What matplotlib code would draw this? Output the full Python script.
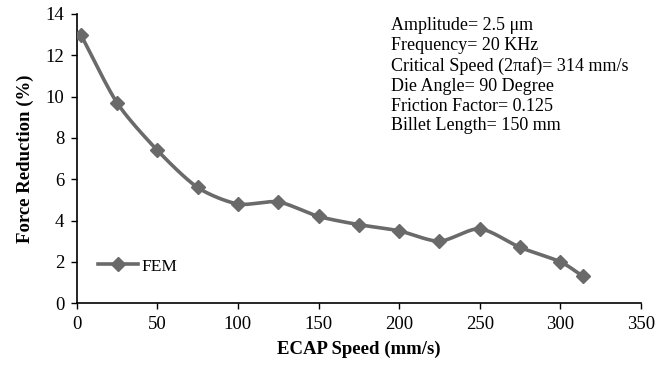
import matplotlib
matplotlib.use('Agg')
import matplotlib.pyplot as plt
from matplotlib.lines import Line2D
import numpy as np

plt.rcParams['font.family'] = ['Liberation Serif', 'DejaVu Serif']

################################################################

speed = [2.5, 25, 50, 75, 100, 125, 150, 175, 200, 225, 250, 275, 300, 314]
force_reduction = [13.0, 9.7, 7.4, 5.6, 4.8, 4.9, 4.2, 3.8, 3.5, 3.0, 3.6, 2.7, 2.0, 1.3]
info_lines = ['Amplitude= 2.5 \u03bcm',
              'Frequency= 20 KHz',
              'Critical Speed (2\u03c0af)= 314 mm/s',
              'Die Angle= 90 Degree',
              'Friction Factor= 0.125',
              'Billet Length= 150 mm']

line_col = '#6a6a6a'

def smooth_curve(x, y, n=20):
    # Catmull-Rom krivulja skozi točke (podobno kot "smoothed line" v Excelu)
    x = np.asarray(x, float)
    y = np.asarray(y, float)
    px = np.concatenate([[2*x[0]-x[1]], x, [2*x[-1]-x[-2]]])
    py = np.concatenate([[2*y[0]-y[1]], y, [2*y[-1]-y[-2]]])
    xs, ys = [], []
    t = np.linspace(0, 1, n)
    for i in range(1, len(px)-2):
        for p, out in ((px, xs), (py, ys)):
            p0, p1, p2, p3 = p[i-1], p[i], p[i+1], p[i+2]
            m1 = (p2 - p0) / 2 * 0.8
            m2 = (p3 - p1) / 2 * 0.8
            h00 = 2*t**3 - 3*t**2 + 1
            h10 = t**3 - 2*t**2 + t
            h01 = -2*t**3 + 3*t**2
            h11 = t**3 - t**2
            out.extend(h00*p1 + h10*m1 + h01*p2 + h11*m2)
    return np.array(xs), np.array(ys)

################################################################

fig = plt.figure(figsize=(6.56, 3.67), dpi=100)
ax = fig.add_axes([0.117, 0.174, 0.860, 0.788])

sx, sy = smooth_curve(speed, force_reduction)
ax.plot(sx, sy, color=line_col, lw=2.6, zorder=2)
ax.plot(speed, force_reduction, ls='none', marker='D', ms=7, color=line_col, zorder=3)

ax.set_xlim(0, 350)
ax.set_ylim(0, 14)
ax.set_xticks(range(0, 351, 50))
ax.set_yticks(range(0, 15, 2))
ax.tick_params(labelsize=13.5, direction='out', length=4, width=1, colors='black', pad=5)
for s in ['top', 'right']:
    ax.spines[s].set_visible(False)
for s in ['left', 'bottom']:
    ax.spines[s].set_linewidth(1.2)

ax.set_xlabel('ECAP Speed (mm/s)', fontsize=13.5, fontweight='bold', labelpad=6)
ax.set_ylabel('Force Reduction (%)', fontsize=13.5, fontweight='bold', labelpad=8)

handle = Line2D([], [], color=line_col, lw=2.6, marker='D', ms=7)
ax.legend([handle], ['FEM'], loc='lower left', bbox_to_anchor=(0.01, 0.045),
          frameon=False, fontsize=12.5, handlelength=2.3, handletextpad=0.2)

fig.text(391/656, 1-17/367, '\n'.join(info_lines), fontsize=13,
         va='top', ha='left', linespacing=1.22)

fig.savefig('out.png', dpi=100)
